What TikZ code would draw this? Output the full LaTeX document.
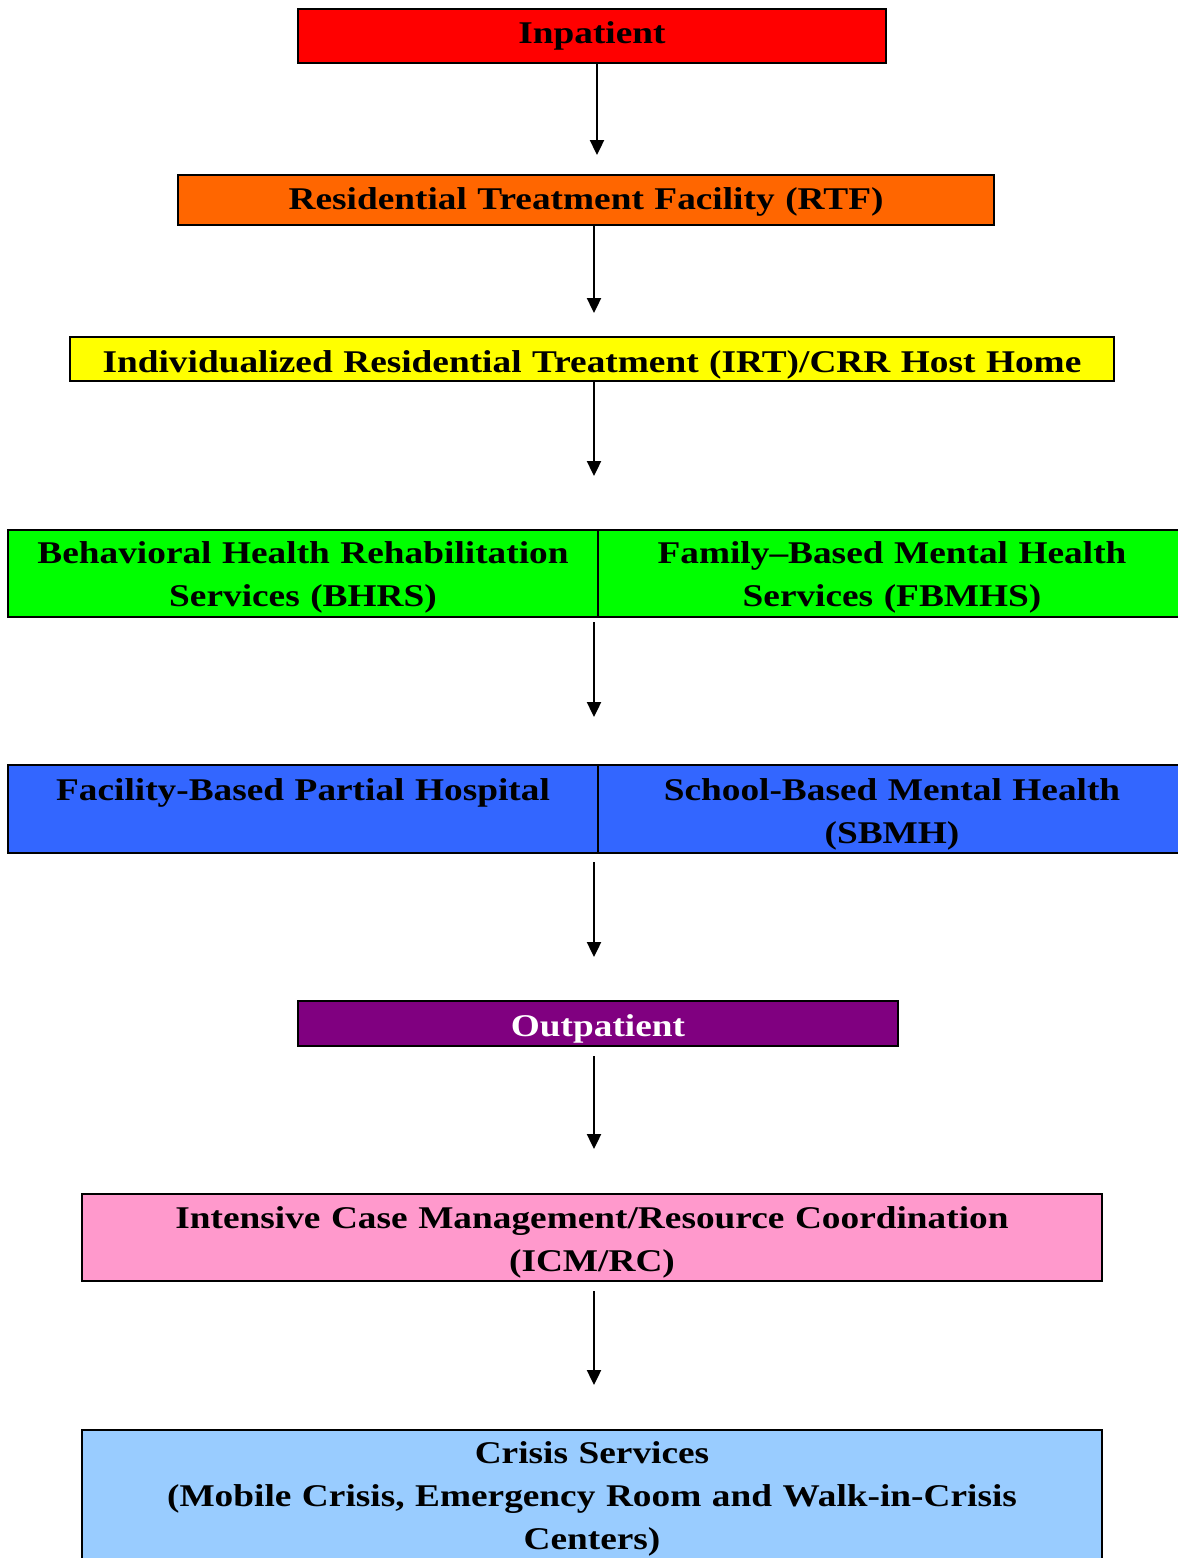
\documentclass[tikz,border=0pt]{standalone}
\usepackage{fontspec}
\setmainfont{Liberation Serif}[FakeStretch=1.18]
\usetikzlibrary{arrows.meta}

\definecolor{inred}{HTML}{FF0000}
\definecolor{rtforange}{HTML}{FF6600}
\definecolor{irtyellow}{HTML}{FFFF00}
\definecolor{bhgreen}{HTML}{00FF00}
\definecolor{phblue}{HTML}{3366FF}
\definecolor{oppurple}{HTML}{800080}
\definecolor{icmpink}{HTML}{FF99CC}
\definecolor{crisisblue}{HTML}{99CCFF}

\tikzset{
    level/.style={draw=black, line width=1.3pt, inner sep=0pt, align=center,
        font=\fontsize{18}{24.4}\selectfont\bfseries},
    sized/.style 2 args={text width=\dimexpr 0.02cm*#1\relax,
        minimum height=\dimexpr 0.02cm*#2\relax},
    lift/.style={execute at begin node={\rule{0pt}{\dimexpr 0.7em+0.04cm*#1\relax}}},
    flow/.style={-{Triangle[width=8pt,length=8.5pt]}, line width=1.1pt}
}

\begin{document}
\begin{tikzpicture}[x=0.02cm,y=-0.02cm]
    \useasboundingbox (0,0) rectangle (1177,1558);

    % Niveaux de soins
    \node[level, sized={588}{54}, lift=0, fill=inred] (inpt) at (592,36) {Inpatient};
    \node[level, sized={816}{50}, lift=2, fill=rtforange] (rtf) at (586,200) {Residential Treatment Facility (RTF)};
    \node[level, sized={1044}{44}, lift=6, fill=irtyellow] (irt) at (592,359) {Individualized Residential Treatment (IRT)/CRR Host Home};

    \node[level, sized={590}{87}, lift=4, fill=bhgreen] (bhrs) at (303,573.5) {Behavioral Health Rehabilitation\\Services (BHRS)};
    \node[level, sized={588}{87}, lift=4, fill=bhgreen] (fbmhs) at (892,573.5) {Family--Based Mental Health\\Services (FBMHS)};

    \node[level, sized={590}{88}, lift=5, fill=phblue] (fbph) at (303,809) {Facility-Based Partial Hospital\\\vphantom{(}};
    \node[level, sized={588}{88}, lift=5, fill=phblue] (sbmh) at (892,809) {School-Based Mental Health\\(SBMH)};

    \node[level, sized={600}{45}, lift=5, fill=oppurple, text=white] (outpt) at (598,1023.5) {Outpatient};
    \node[level, sized={1020}{87}, lift=5, fill=icmpink] (icm) at (592,1237.5) {Intensive Case Management/Resource Coordination\\(ICM/RC)};
    \node[level, sized={1020}{130}, lift=4, fill=crisisblue] (crisis) at (592,1495) {Crisis Services\\(Mobile Crisis, Emergency Room and Walk-in-Crisis\\Centers)};

    % Pointes des fleches
    \coordinate (tipA) at (597,155);
    \coordinate (tipB) at (594,313);
    \coordinate (tipC) at (594,476);
    \coordinate (tipD) at (594,717);
    \coordinate (tipE) at (594,957);
    \coordinate (tipF) at (594,1149);
    \coordinate (tipG) at (594,1385);

    % Fleches
    \draw[flow] (inpt.south -| tipA) -- (tipA);
    \draw[flow] (rtf.south -| tipB) -- (tipB);
    \draw[flow] (irt.south -| tipC) -- (tipC);
    \draw[flow] ([yshift=-4*0.02cm]bhrs.south east -| tipD) -- (tipD);
    \draw[flow] ([yshift=-8*0.02cm]fbph.south east -| tipE) -- (tipE);
    \draw[flow] ([yshift=-9*0.02cm]outpt.south -| tipF) -- (tipF);
    \draw[flow] ([yshift=-9*0.02cm]icm.south -| tipG) -- (tipG);
\end{tikzpicture}
\end{document}
